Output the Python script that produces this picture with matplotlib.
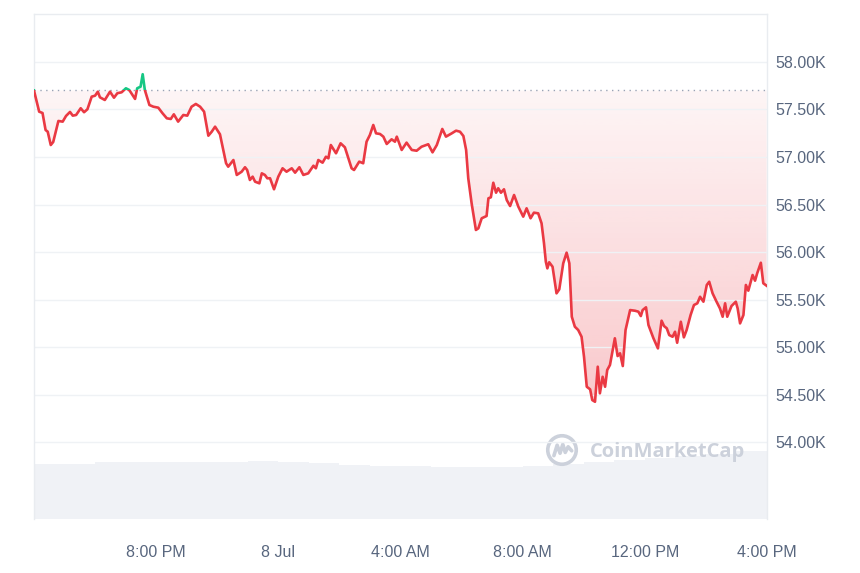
import numpy as np
import matplotlib.pyplot as plt
from matplotlib.patches import Rectangle, Circle, PathPatch

plt.rcParams['font.family'] = ['Liberation Sans', 'DejaVu Sans']

# horas a partir de 16:00 (7 Jul)
horas = [0.00, 0.17, 0.28, 0.38, 0.45, 0.55, 0.63, 0.80, 0.94, 1.05,
         1.18, 1.27, 1.38, 1.53, 1.64, 1.75, 1.89, 2.00, 2.09, 2.16,
         2.32, 2.49, 2.62, 2.73, 2.87, 3.01, 3.12, 3.31, 3.38, 3.49,
         3.56, 3.63, 3.78, 3.91, 4.07, 4.21, 4.35, 4.48, 4.58, 4.72,
         4.89, 5.02, 5.16, 5.30, 5.44, 5.57, 5.71, 5.82, 5.93, 6.09,
         6.29, 6.36, 6.53, 6.64, 6.80, 6.91, 6.98, 7.07, 7.16, 7.24,
         7.38, 7.46, 7.56, 7.64, 7.73, 7.86, 8.00, 8.14, 8.27, 8.44,
         8.55, 8.69, 8.82, 8.98, 9.15, 9.23, 9.31, 9.45, 9.56, 9.64,
         9.72, 9.89, 10.04, 10.18, 10.40, 10.48, 10.65, 10.78, 10.89, 11.00,
         11.11, 11.20, 11.33, 11.44, 11.55, 11.71, 11.82, 11.88, 12.04, 12.20,
         12.37, 12.53, 12.69, 12.91, 13.05, 13.19, 13.37, 13.49, 13.68, 13.82,
         13.95, 14.06, 14.15, 14.22, 14.33, 14.47, 14.55, 14.66, 14.82, 14.88,
         14.96, 15.04, 15.13, 15.20, 15.29, 15.39, 15.48, 15.59, 15.72, 15.86,
         16.02, 16.13, 16.26, 16.37, 16.51, 16.62, 16.70, 16.76, 16.81, 16.87,
         16.98, 17.11, 17.20, 17.33, 17.44, 17.53, 17.61, 17.71, 17.82, 17.93,
         18.01, 18.10, 18.21, 18.28, 18.37, 18.46, 18.53, 18.62, 18.70, 18.77,
         18.86, 19.02, 19.11, 19.19, 19.28, 19.37, 19.52, 19.68, 19.79, 19.87,
         19.93, 20.04, 20.12, 20.28, 20.43, 20.55, 20.63, 20.72, 20.80, 20.91,
         20.99, 21.06, 21.18, 21.28, 21.37, 21.50, 21.61, 21.72, 21.81, 21.92,
         22.03, 22.11, 22.22, 22.35, 22.46, 22.55, 22.63, 22.70, 22.84, 22.98,
         23.04, 23.12, 23.23, 23.31, 23.39, 23.53, 23.61, 23.68, 23.80, 23.88,
         23.99]

# preco em milhares de USD
preco = [57.700, 57.477, 57.463, 57.284, 57.266, 57.126, 57.158, 57.379, 57.372, 57.432,
         57.474, 57.435, 57.442, 57.513, 57.471, 57.502, 57.635, 57.645, 57.687, 57.628,
         57.600, 57.687, 57.624, 57.671, 57.681, 57.723, 57.705, 57.611, 57.723, 57.740,
         57.871, 57.705, 57.547, 57.529, 57.519, 57.460, 57.407, 57.400, 57.449, 57.372,
         57.442, 57.435, 57.529, 57.558, 57.529, 57.477, 57.224, 57.266, 57.319, 57.239,
         56.934, 56.898, 56.968, 56.811, 56.845, 56.892, 56.863, 56.758, 56.793, 56.740,
         56.723, 56.828, 56.811, 56.776, 56.776, 56.660, 56.793, 56.881, 56.845, 56.881,
         56.835, 56.892, 56.811, 56.828, 56.908, 56.881, 56.968, 56.940, 57.003, 56.986,
         57.126, 57.039, 57.144, 57.102, 56.881, 56.863, 56.951, 56.934, 57.161, 57.232,
         57.337, 57.249, 57.242, 57.214, 57.137, 57.186, 57.161, 57.214, 57.074, 57.151,
         57.074, 57.066, 57.108, 57.134, 57.049, 57.126, 57.295, 57.214, 57.249, 57.277,
         57.266, 57.221, 57.074, 56.776, 56.513, 56.232, 56.249, 56.355, 56.379, 56.565,
         56.576, 56.729, 56.624, 56.671, 56.624, 56.660, 56.547, 56.484, 56.600, 56.477,
         56.372, 56.460, 56.355, 56.414, 56.407, 56.302, 56.092, 55.898, 55.828, 55.892,
         55.845, 55.565, 55.607, 55.881, 55.993, 55.881, 55.319, 55.214, 55.179, 55.108,
         54.898, 54.582, 54.555, 54.442, 54.424, 54.793, 54.513, 54.687, 54.582, 54.758,
         54.811, 55.092, 54.905, 54.934, 54.800, 55.179, 55.389, 55.382, 55.372, 55.326,
         55.389, 55.418, 55.232, 55.095, 54.986, 55.277, 55.221, 55.197, 55.126, 55.108,
         55.161, 55.045, 55.266, 55.102, 55.179, 55.337, 55.442, 55.460, 55.529, 55.477,
         55.653, 55.687, 55.565, 55.477, 55.407, 55.319, 55.460, 55.319, 55.432, 55.477,
         55.407, 55.249, 55.337, 55.653, 55.593, 55.758, 55.698, 55.776, 55.887, 55.671,
         55.645]

# volume (bilhoes USD, 24h) por hora
vol_horas = list(range(24))
volume = [27.5, 27.5, 28.3, 28.3, 28.5, 28.5, 28.5, 28.8, 28.5, 28.0,
          26.8, 26.5, 26.3, 25.8, 25.8, 26.0, 26.5, 27.5, 28.5, 29.5,
          30.5, 31.5, 32.5, 34.0]

ticks_x = [4, 8, 12, 16, 20, 24]
rotulos_x = ['8:00 PM', '8 Jul', '4:00 AM', '8:00 AM', '12:00 PM', '4:00 PM']
ticks_y = [54.0, 54.5, 55.0, 55.5, 56.0, 56.5, 57.0, 57.5, 58.0]

vermelho = '#ea3943'
verde = '#16c784'
cinza_txt = '#58667e'
cinza_grade = '#eff2f5'
cinza_marca = '#ccd1db'

base = preco[0]
y_min, y_max = 53.19, 58.505

fig = plt.figure(figsize=(8.6, 5.73), dpi=100)
ax = fig.add_axes([0.0395, 0.0942, 0.8523, 0.8814])

''' volume no fundo '''
ax2 = ax.twinx()
ax2.bar(vol_horas, volume, width=1.0, align='edge', color='#f0f2f6', linewidth=0)
ax2.set_ylim(0, 252.5)
ax2.set_yticks([])
for s in ax2.spines.values():
    s.set_visible(False)
ax.set_zorder(ax2.get_zorder() + 1)
ax.patch.set_visible(False)

ax.set_xlim(0, 24)
ax.set_ylim(y_min, y_max)

''' preenchimento com gradiente '''
p = np.array(preco)
area_v = ax.fill_between(horas, np.minimum(p, base), base, facecolor='none', edgecolor='none')
area_g = ax.fill_between(horas, np.maximum(p, base), base, facecolor='none', edgecolor='none')

grad = np.linspace(0, 1, 256).reshape(-1, 1)
img_v = np.zeros((256, 1, 4))
img_v[..., :3] = (234 / 255, 57 / 255, 67 / 255)
img_v[..., 3] = 0.36 - 0.31 * grad
iv = ax.imshow(img_v, extent=[0, 24, y_min, base], origin='lower', aspect='auto', zorder=1)
pv = PathPatch(area_v.get_paths()[0], transform=ax.transData, facecolor='none', edgecolor='none')
ax.add_patch(pv)
iv.set_clip_path(pv)

img_g = np.zeros((256, 1, 4))
img_g[..., :3] = (22 / 255, 199 / 255, 132 / 255)
img_g[..., 3] = 0.05 + 0.15 * grad
ig = ax.imshow(img_g, extent=[0, 24, base, y_max], origin='lower', aspect='auto', zorder=1)
pg = PathPatch(area_g.get_paths()[0], transform=ax.transData, facecolor='none', edgecolor='none')
ax.add_patch(pg)
ig.set_clip_path(pg)

''' linha de preco, vermelha abaixo e verde acima da base '''
lv, = ax.plot(horas, preco, color=vermelho, lw=1.9, zorder=3, solid_joinstyle='round')
lv.set_clip_path(Rectangle((0, y_min), 24, base - y_min, transform=ax.transData))
lg, = ax.plot(horas, preco, color=verde, lw=1.9, zorder=3, solid_joinstyle='round')
lg.set_clip_path(Rectangle((0, base), 24, y_max - base, transform=ax.transData))

ax.axhline(base, color='#9aa3b5', lw=1.0, linestyle=(0, (1, 3.2)), zorder=2)

''' eixos '''
ax.yaxis.tick_right()
ax.set_yticks(ticks_y)
ax.set_yticklabels([f'{v:.2f}K' for v in ticks_y])
ax.set_xticks(ticks_x)
ax.set_xticklabels(rotulos_x)
ax.tick_params(axis='both', length=0, labelsize=11.5, labelcolor=cinza_txt)
ax.tick_params(axis='y', pad=6)
ax.tick_params(axis='x', pad=19)
ax.grid(True, axis='y', color=cinza_grade, lw=1.0, zorder=0)
ax.spines['bottom'].set_visible(False)
for s in ['top', 'left', 'right']:
    ax.spines[s].set_color('#e9ecf0')
    ax.spines[s].set_linewidth(1.0)

''' marca d'agua '''
ax.text(0.7585, 0.133, 'CoinMarketCap', transform=ax.transAxes, fontsize=14.5,
        fontweight='bold', color=cinza_marca, va='center', ha='left',
        family=['Open Sans', 'DejaVu Sans'], zorder=4)
lax = fig.add_axes([(562 - 17) / 860, (573 - 450 - 17) / 573, 34 / 860, 34 / 573])
lax.set_xlim(-1.05, 1.05)
lax.set_ylim(-1.05, 1.05)
lax.set_aspect('equal')
lax.axis('off')
lax.add_patch(Circle((0, 0), 0.88, fill=False, lw=2.6, edgecolor=cinza_marca))
lax.plot([-0.5, -0.3, -0.12, 0.05, 0.2, 0.38, 0.6], [-0.35, 0.3, -0.2, 0.35, -0.15, 0.2, -0.05],
         color=cinza_marca, lw=2.6, solid_capstyle='round', solid_joinstyle='round')

fig.savefig('out.png', dpi=100)
